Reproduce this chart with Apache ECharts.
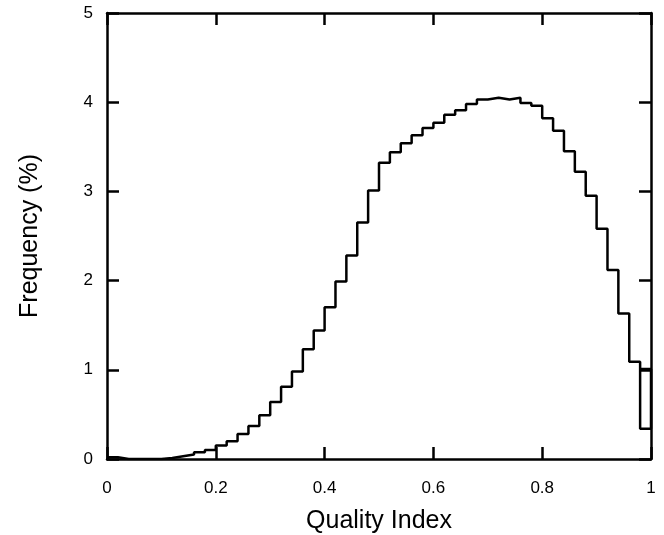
<!DOCTYPE html>
<html>
<head>
<meta charset="utf-8">
<script src="https://cdn.jsdelivr.net/npm/echarts@6/dist/echarts.min.js"></script>
<style>html,body{margin:0;padding:0;background:#fff}#c{width:664px;height:535px}</style>
</head>
<body>
<div id="c"></div>
<script>
// Histogram of quality index (bin width 0.02, from 0 to 1)
const binStart = 0;
const binWidth = 0.02;
const frequency = [
  0.02, 0, 0, 0, 0, 0.01, 0.03, 0.05, 0.075, 0.10,
  0.15, 0.20, 0.28, 0.37, 0.49, 0.64, 0.81, 0.98, 1.23, 1.44,
  1.70, 1.99, 2.28, 2.65, 3.01, 3.32, 3.44, 3.54, 3.63, 3.71,
  3.77, 3.86, 3.91, 3.98, 4.03, 4.05, 4.03, 4.05, 3.99, 3.96,
  3.82, 3.68, 3.45, 3.22, 2.95, 2.58, 2.12, 1.63, 1.09, 0.34
];
// extra upper level drawn over the last bin in the original figure
const lastBinUpper = 1.01;
const xTicks = [0, 0.2, 0.4, 0.6, 0.8, 1];
const yTicks = [0, 1, 2, 3, 4, 5];

const pts = [];
frequency.forEach((v, i) => {
  const a = +(binStart + i * binWidth).toFixed(4);
  const b = +(binStart + (i + 1) * binWidth).toFixed(4);
  pts.push([a, v], [b, v]);
});
const nBins = frequency.length;
const lastA = +(binStart + (nBins - 1) * binWidth).toFixed(4);
const lastB = +(binStart + nBins * binWidth).toFixed(4);
const extra = [[lastB, frequency[nBins - 1]], [lastB, lastBinUpper], [lastA, lastBinUpper]];

const fontFam = '"Liberation Sans", Arial, sans-serif';
const axLine = () => ({ show: true, onZero: false, lineStyle: { color: '#000', width: 2.5 } });
const tick = () => ({ show: true, inside: true, length: 12, lineStyle: { color: '#000', width: 2.5 } });

const chart = echarts.init(document.getElementById('c'));
chart.setOption({
  animation: false,
  backgroundColor: '#fff',
  grid: { left: 107, right: 13, top: 13, bottom: 76, containLabel: false, outerBoundsMode: 'none' },
  xAxis: [{
    type: 'value', min: 0, max: 1, interval: 0.2, position: 'bottom',
    name: 'Quality Index', nameLocation: 'middle', nameGap: 50,
    nameTextStyle: { fontSize: 25, color: '#000', fontFamily: fontFam },
    axisLine: axLine(), axisTick: tick(), splitLine: { show: false },
    axisLabel: { color: '#000', fontSize: 17, margin: 21, fontFamily: fontFam,
      formatter: v => xTicks.includes(+v.toFixed(2)) ? String(+v.toFixed(2)) : '' }
  }, {
    type: 'value', min: 0, max: 1, interval: 0.2, position: 'top',
    axisLine: axLine(), axisTick: tick(), axisLabel: { show: false }, splitLine: { show: false }
  }],
  yAxis: [{
    type: 'value', min: 0, max: 5, interval: 1, position: 'left',
    name: 'Frequency (%)', nameLocation: 'middle', nameGap: 64,
    nameTextStyle: { fontSize: 25, color: '#000', fontFamily: fontFam },
    axisLine: axLine(), axisTick: tick(), splitLine: { show: false },
    axisLabel: { color: '#000', fontSize: 17, margin: 14, fontFamily: fontFam,
      formatter: v => yTicks.includes(v) ? String(v) : '' }
  }, {
    type: 'value', min: 0, max: 5, interval: 1, position: 'right',
    axisLine: axLine(), axisTick: tick(), axisLabel: { show: false }, splitLine: { show: false }
  }],
  series: [{
    type: 'line', data: pts, showSymbol: false, symbol: 'none',
    lineStyle: { color: '#000', width: 2.5 }, z: 3
  }, {
    type: 'line', data: extra, showSymbol: false, symbol: 'none',
    lineStyle: { color: '#000', width: 2.5 }, z: 3
  }]
});
</script>
</body>
</html>
